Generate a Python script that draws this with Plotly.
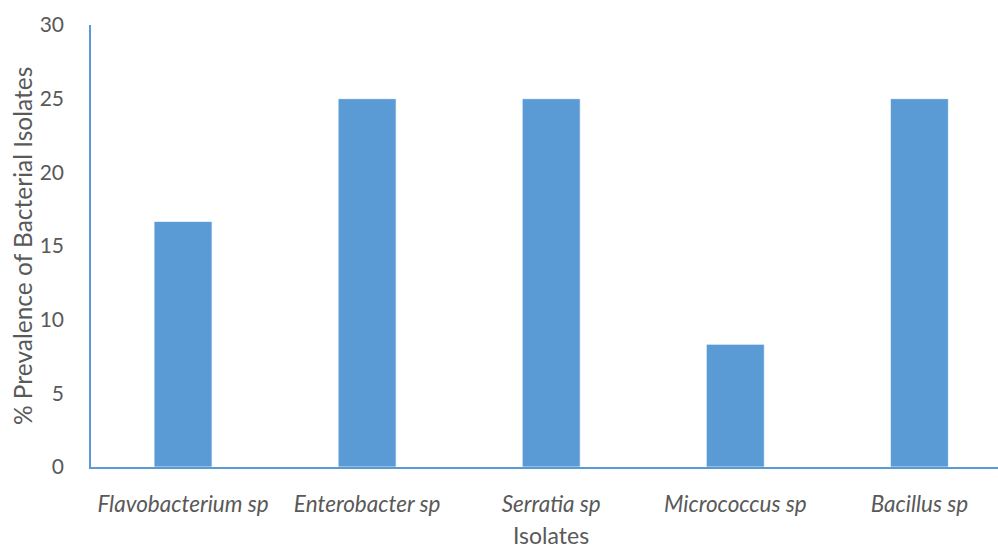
import plotly.graph_objects as go

# Prevalence of each bacterial isolate (%)
isolates = ["Flavobacterium sp", "Enterobacter sp", "Serratia sp", "Micrococcus sp", "Bacillus sp"]
prevalence = [16.67, 25, 25, 8.33, 25]
y_ticks = [0, 5, 10, 15, 20, 25, 30]

BLUE = "#5B9BD5"
GREY = "#595959"
FONT = "Lato"

fig = go.Figure(
    go.Bar(
        x=isolates,
        y=prevalence,
        marker=dict(color=BLUE, line=dict(color="rgba(255,255,255,0.7)", width=1)),
    )
)

fig.update_layout(
    width=998,
    height=549,
    margin=dict(l=91, r=0, t=25, b=82),
    paper_bgcolor="white",
    plot_bgcolor="white",
    bargap=0.685,
    showlegend=False,
    font=dict(family=FONT, color=GREY),
)

fig.update_xaxes(
    type="category",
    range=[-0.5, 4.427],
    showline=True,
    linecolor=BLUE,
    linewidth=1.5,
    showgrid=False,
    ticks="",
    ticklabelstandoff=16,
    tickfont=dict(family=FONT, size=22.5, color=GREY, style="italic"),
)

fig.update_yaxes(
    range=[0, 30],
    tickvals=y_ticks,
    showline=True,
    linecolor=BLUE,
    linewidth=1.5,
    showgrid=False,
    zeroline=False,
    ticks="",
    ticklabelstandoff=21,
    tickfont=dict(family=FONT, size=21, color=GREY),
)

# Axis titles
fig.add_annotation(
    text="Isolates", xref="paper", yref="paper", x=0.507, y=-0.154,
    xanchor="center", yanchor="middle", showarrow=False,
    font=dict(family=FONT, size=23, color=GREY),
)
fig.add_annotation(
    text="% Prevalence of Bacterial Isolates", xref="paper", yref="paper",
    x=-0.076, y=0.5, xanchor="center", yanchor="middle", textangle=-90,
    showarrow=False, font=dict(family=FONT, size=24.5, color=GREY),
)

fig.write_html("out.html")
